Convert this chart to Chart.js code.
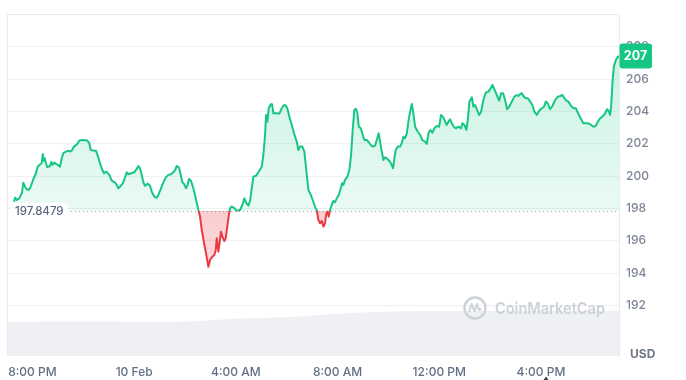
<!DOCTYPE html>
<html>
<head>
<meta charset="utf-8">
<script src="https://cdn.jsdelivr.net/npm/chart.js@4.4.1/dist/chart.umd.min.js"></script>
<style>
  html, body { margin: 0; padding: 0; background: #ffffff; }
  #wrap { width: 686px; height: 380px; position: relative; }
</style>
</head>
<body>
<div id="wrap"><canvas id="c" width="686" height="380"></canvas></div>
<script>
// ---- data (minutes since 7:00 PM, 9 Feb) ----
const timeMin = [16.5,18.9,22.9,29.0,35.4,38.5,42.5,46.5,50.3,54.3,62.1,68.4,72.5,76.2,81.9,84.3,86.6,89.0,92.0,95.1,98.4,101.5,104.5,107.9,111.6,115.6,121.1,125.1,129.1,132.9,139.2,144.7,148.7,152.7,158.1,165.9,170.6,176.3,184.1,189.5,194.2,197.5,203.7,210.0,214.8,219.5,224.2,228.9,233.6,236.7,241.4,247.1,250.9,254.9,258.9,262.7,266.7,273.1,277.8,282.5,286.3,292.6,300.4,306.1,309.9,313.9,317.9,321.7,325.7,332.1,337.5,341.5,347.6,353.3,357.1,363.4,368.9,374.5,380.7,387.0,392.5,396.5,400.5,405.9,409.0,413.7,418.4,422.4,426.5,429.5,434.2,439.7,445.3,451.5,455.5,459.5,464.2,469.6,475.1,479.1,484.5,489.2,492.5,494.9,498.7,502.0,505.0,508.1,512.8,516.1,519.2,522.3,526.3,530.3,536.4,542.1,549.9,555.3,560.0,564.7,569.5,573.5,577.5,581.3,587.6,593.1,601.1,604.9,608.9,611.2,614.3,617.6,622.3,625.4,628.5,634.8,642.6,648.3,653.7,658.4,662.5,666.2,671.9,677.3,683.7,687.5,691.5,696.9,701.6,707.3,711.1,716.7,722.9,727.6,730.9,734.7,738.7,742.7,746.5,750.5,752.8,755.9,759.2,762.3,766.3,770.1,774.1,778.1,782.8,787.5,790.6,793.7,797.7,803.1,807.8,811.8,815.9,819.6,823.6,826.7,830.0,834.7,839.5,843.2,848.9,853.6,858.3,863.1,868.5,872.5,877.0,880.3,884.3,888.1,892.1,896.8,901.5,906.2,911.0,914.0,917.3,922.1,927.5,931.5,935.3,939.3,943.3,947.1,951.1,955.1,958.9,962.9,969.3,974.7,980.1,986.5,990.5,994.3,998.3,1003.7,1008.4,1014.1,1019.5,1024.2,1029.7,1033.7,1037.7,1041.5,1045.5,1049.5,1054.2,1058.9,1065.1,1071.4,1074.5,1079.2,1083.9,1087.3,1091.0,1096.7,1100.5,1104.5,1109.2,1113.9,1118.6,1124.1,1129.7,1135.9,1139.9,1145.3,1150.0,1155.7,1161.1,1165.8,1170.6,1175.3,1180.0,1184.7,1191.1,1197.2,1202.9,1206.7,1210.7,1214.7,1219.4,1224.1,1228.9,1234.3,1239.7,1244.4,1250.1,1255.5,1261.9,1267.3,1271.3,1276.1,1281.5,1286.9,1293.3,1299.7,1305.8,1310.5,1315.3,1320.0,1324.7,1331.0,1336.5,1342.1,1348.3,1354.6,1360.1,1365.7,1371.9,1378.2,1383.7,1389.3,1394.1,1399.5,1404.9,1411.3,1416.0,1419.1,1423.1,1425.4,1428.5,1431.8,1436.5,1441.3,1444.0];
const price = [198.41,198.66,198.52,198.62,198.97,199.59,199.34,199.18,199.14,199.24,199.80,200.17,200.58,200.68,200.79,201.36,200.95,201.10,200.79,200.54,200.58,200.62,200.87,200.70,200.83,200.75,200.67,200.58,201.10,201.41,201.51,201.57,201.51,201.57,201.82,201.98,202.19,202.23,202.21,202.19,202.03,201.61,201.57,201.57,201.20,200.79,200.42,200.17,200.27,200.21,200.07,199.71,199.65,199.59,199.45,199.24,199.34,199.55,199.86,200.23,200.11,200.17,200.23,200.44,200.62,200.48,200.07,199.61,199.40,199.53,199.40,199.03,198.72,198.66,198.83,199.24,199.61,199.90,200.07,200.11,200.23,200.37,200.62,200.52,200.17,199.61,199.49,199.24,199.49,199.82,199.69,199.24,198.62,197.90,197.49,196.66,195.94,195.22,194.39,194.81,195.01,195.12,195.43,196.15,195.32,195.94,196.56,196.25,195.98,196.15,196.77,197.39,198.01,198.11,198.01,197.86,197.90,198.21,198.62,198.32,198.17,198.46,199.24,199.96,200.02,200.23,200.58,201.30,202.54,203.78,203.36,204.19,204.44,204.44,203.88,203.88,203.86,204.19,204.39,204.35,204.09,203.67,203.16,202.64,202.12,201.61,201.82,201.82,201.51,200.07,199.14,198.83,198.41,198.04,197.90,197.28,197.08,197.22,196.87,197.08,197.59,197.80,197.49,197.90,198.21,198.46,198.38,198.62,198.83,199.24,199.55,199.45,199.76,199.96,200.37,201.30,202.95,204.09,204.15,203.88,203.05,202.95,202.54,202.23,202.23,202.09,201.92,201.82,201.88,202.23,202.64,202.12,201.51,200.99,201.16,201.07,200.95,200.79,200.48,201.10,201.61,201.82,201.82,202.03,202.43,202.34,202.64,203.36,203.98,204.46,203.88,203.05,202.74,202.54,202.23,202.12,201.98,202.64,202.85,202.68,202.95,203.10,203.05,203.78,203.63,203.36,203.16,203.36,203.51,203.26,203.05,202.95,203.05,202.95,203.26,203.16,202.85,203.47,204.60,204.87,204.29,204.39,204.09,203.78,203.98,204.70,205.16,205.22,205.37,205.63,205.37,205.01,204.66,205.12,205.12,204.70,204.13,204.29,204.60,204.91,205.01,204.95,205.06,205.12,204.91,204.81,204.81,204.60,204.39,203.98,203.78,204.04,204.19,204.29,204.60,204.50,204.13,204.33,204.70,204.91,204.95,205.01,204.81,204.66,204.60,204.33,204.19,204.19,203.84,203.51,203.26,203.26,203.26,203.16,203.05,203.10,203.36,203.57,203.67,203.88,204.13,204.04,203.78,204.29,205.74,206.76,207.18,207.38,207.42];
const volTime = [0,100,235,340,455,525,595,690,790,880,975,1165,1305,1444];
const volume  = [99.4,100.9,100.9,99.4,102.3,108.2,111.1,115.5,124.3,128.7,131.6,131.6,131.6,133.0];
const openPrice = 197.8479;
const xTickMin = [60,300,540,780,1020,1260];
const xTickText = ['8:00 PM','10 Feb','4:00 AM','8:00 AM','12:00 PM','4:00 PM'];
const yTickValues = [190,192,194,196,198,200,202,204,206,208,210];
const currency = 'USD';
const brand = 'CoinMarketCap';

// ---- styles ----
const UP = '#16c784', DOWN = '#ea3943';
const FONT = 'Inter, "Noto Sans", sans-serif';
const GRID = '#eff1f4';

function splitGradient(chart, topCol, baseUp, baseDown, bottomCol) {
  const a = chart.chartArea, y = chart.scales.y;
  if (!a || !y) return null;
  const py = y.getPixelForValue(openPrice);
  const f = Math.min(Math.max((py - a.top) / (a.bottom - a.top), 0), 1);
  const g = chart.ctx.createLinearGradient(0, a.top, 0, a.bottom);
  g.addColorStop(0, topCol);
  g.addColorStop(f, baseUp);
  g.addColorStop(Math.min(f + 0.0001, 1), baseDown);
  g.addColorStop(1, bottomCol);
  return g;
}

const decor = {
  id: 'decor',
  beforeDatasetsDraw(chart) {
    const {ctx, chartArea: a, scales: {y}} = chart;
    const py = Math.round(y.getPixelForValue(openPrice)) + 0.5;
    ctx.save();
    ctx.strokeStyle = '#9aa3b3';
    ctx.lineWidth = 1;
    ctx.setLineDash([1, 3]);
    ctx.beginPath(); ctx.moveTo(a.left, py); ctx.lineTo(a.right, py); ctx.stroke();
    ctx.restore();
  },
  afterDatasetsDraw(chart) {
    const {ctx, chartArea: a, scales: {y}} = chart;
    ctx.save();
    // borders left/top
    ctx.strokeStyle = '#e8ebef'; ctx.lineWidth = 1;
    ctx.beginPath();
    ctx.moveTo(a.left + 0.5, a.bottom); ctx.lineTo(a.left + 0.5, a.top + 0.5); ctx.lineTo(a.right, a.top + 0.5);
    ctx.stroke();
    // watermark
    const wx = 475, wy = 308;
    ctx.strokeStyle = '#cdd1d8'; ctx.lineWidth = 2.4;
    ctx.beginPath(); ctx.arc(wx, wy, 10.5, 0, Math.PI * 2); ctx.stroke();
    ctx.lineWidth = 2; ctx.lineJoin = 'round';
    ctx.beginPath();
    ctx.moveTo(wx - 6, wy + 4); ctx.lineTo(wx - 3.5, wy - 4); ctx.lineTo(wx - 0.5, wy + 3);
    ctx.lineTo(wx + 2, wy - 4); ctx.lineTo(wx + 4, wy + 2); ctx.lineTo(wx + 6.5, wy + 1);
    ctx.stroke();
    ctx.fillStyle = '#cdd1d8';
    ctx.font = '600 16px ' + FONT;
    ctx.textBaseline = 'middle'; ctx.textAlign = 'left';
    ctx.fillText(brand, 495, wy + 1, 110);
    ctx.restore();
  },
  afterDraw(chart) {
    const {ctx, chartArea: a, scales: {y}} = chart;
    ctx.save();
    // open price label
    const py = y.getPixelForValue(openPrice);
    ctx.fillStyle = '#ffffff';
    ctx.beginPath(); ctx.roundRect(a.left + 4, py - 8, 57, 17, 4); ctx.fill();
    ctx.fillStyle = '#58667e';
    ctx.font = '500 11.5px ' + FONT;
    ctx.textBaseline = 'middle'; ctx.textAlign = 'left';
    ctx.fillText(openPrice.toFixed(4), a.left + 8, py + 1);
    // last price badge
    const last = price[price.length - 1];
    const ly = y.getPixelForValue(last);
    ctx.fillStyle = UP;
    ctx.beginPath(); ctx.roundRect(a.right + 0.5, ly - 12.5, 32.5, 25, 3); ctx.fill();
    ctx.fillStyle = '#ffffff';
    ctx.font = '700 12.5px ' + FONT;
    ctx.textAlign = 'center';
    ctx.fillText(String(Math.round(last)), a.right + 16.5, ly + 0.5);
    // currency
    ctx.fillStyle = '#6f7787';
    ctx.font = '700 12px ' + FONT;
    ctx.textAlign = 'left';
    ctx.fillText(currency, a.right + 11, a.bottom - 2);
    // small marker under 4:00 PM
    ctx.fillStyle = '#3d4350';
    ctx.beginPath(); ctx.moveTo(546, 376.5); ctx.lineTo(543.5, 380); ctx.lineTo(548.5, 380); ctx.closePath(); ctx.fill();
    ctx.restore();
  }
};

new Chart(document.getElementById('c'), {
  data: {
    datasets: [
      {
        type: 'line',
        label: 'Price',
        data: timeMin.map((t, i) => ({x: t, y: price[i]})),
        yAxisID: 'y',
        order: 0,
        borderWidth: 2,
        pointRadius: 0,
        tension: 0,
        borderJoinStyle: 'round',
        borderColor: (c) => splitGradient(c.chart, UP, UP, DOWN, DOWN) || UP,
        backgroundColor: (c) => splitGradient(c.chart,
          'rgba(22,199,132,0.26)', 'rgba(22,199,132,0.09)',
          'rgba(234,57,67,0.25)', 'rgba(234,57,67,0.10)') || 'rgba(22,199,132,0.15)',
        fill: {target: {value: openPrice}}
      },
      {
        type: 'line',
        label: 'Volume',
        data: volTime.map((t, i) => ({x: t, y: volume[i]})),
        yAxisID: 'v',
        order: 1,
        borderWidth: 0,
        pointRadius: 0,
        tension: 0.3,
        backgroundColor: '#eef0f4',
        fill: 'start'
      }
    ]
  },
  options: {
    responsive: false,
    animation: false,
    events: [],
    layout: {padding: {left: 7, top: 14, right: 0, bottom: 0}},
    plugins: {legend: {display: false}, tooltip: {enabled: false}},
    scales: {
      x: {
        type: 'linear',
        min: 0, max: 1444,
        grid: {display: false, drawTicks: false},
        border: {display: false},
        afterBuildTicks: (s) => { s.ticks = xTickMin.map(v => ({value: v})); },
        afterFit: (s) => { s.height = 24; s.paddingLeft = 0; s.paddingRight = 0; },
        ticks: {
          autoSkip: false, maxRotation: 0, padding: 9,
          color: '#616e85',
          font: {family: FONT, size: 12, weight: '500'},
          callback: (v, i) => xTickText[i]
        }
      },
      y: {
        type: 'linear',
        position: 'right',
        min: 188.87, max: 210.02,
        grid: {color: GRID, lineWidth: 1, drawTicks: false},
        border: {display: true, color: '#e8ebef'},
        afterBuildTicks: (s) => { s.ticks = yTickValues.map(v => ({value: v})); },
        afterFit: (s) => { s.width = 67; s.paddingTop = 0; s.paddingBottom = 0; },
        ticks: {
          padding: 7,
          color: '#7c8597',
          font: {family: FONT, size: 12, weight: '500'},
          callback: (v) => (v >= 192 && v <= 208) ? String(v) : ''
        }
      },
      v: {
        type: 'linear',
        display: false,
        min: 0, max: 1000
      }
    }
  },
  plugins: [decor]
});
</script>
</body>
</html>
